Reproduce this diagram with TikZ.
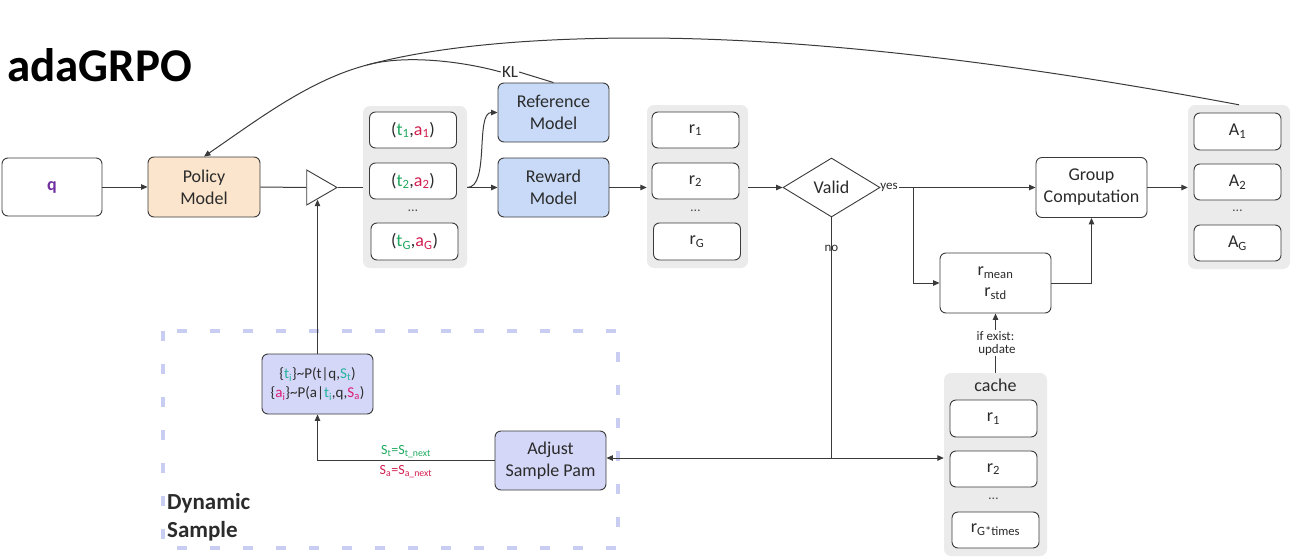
\documentclass[tikz,border=0pt]{standalone}
\usepackage{fontspec}
\setmainfont{Carlito}
\usetikzlibrary{arrows.meta,shapes.geometric}
\definecolor{ln}{HTML}{3A3A3A}
\definecolor{txt}{HTML}{2B2B2B}
\definecolor{policyfill}{HTML}{FBE5CC}
\definecolor{bluefill}{HTML}{C8DAF7}
\definecolor{lavfill}{HTML}{D4D7F7}
\definecolor{dashc}{HTML}{C9CDF2}
\definecolor{grayg}{HTML}{EBEBEB}
\definecolor{tgreen}{HTML}{1DA95E}
\definecolor{ared}{HTML}{D21E4F}
\definecolor{tteal}{HTML}{25B39C}
\definecolor{amag}{HTML}{DC1C74}
\definecolor{qpurple}{HTML}{7030A0}
\newcommand\myfmain{\fontsize{18}{22}\selectfont}
\newcommand\myfsmall{\fontsize{13}{15}\selectfont}
\newcommand\mysb[1]{\textsubscript{#1}}
\newcommand\tg[1]{\textcolor{tgreen}{#1}}
\newcommand\ar[1]{\textcolor{ared}{#1}}
\begin{document}
\begin{tikzpicture}[x=1pt,y=-1pt,
  box/.style={draw=ln, line width=0.9pt, rounded corners=6pt, minimum width=111pt, minimum height=60pt, align=center, font=\myfmain, text=txt, inner sep=2pt},
  item/.style={draw=ln, fill=white, line width=0.9pt, rounded corners=6pt, minimum width=87pt, minimum height=36pt, font=\myfmain, text=txt, inner sep=1pt},
  grp/.style={fill=grayg, rounded corners=7pt, inner sep=0pt},
  dots/.style={font=\fontsize{14}{14}\selectfont, text=txt!80, inner sep=0pt},
  con/.style={draw=ln, line width=1pt},
  arr/.style={con, -{Triangle[length=6.5pt,width=5.5pt]}},
  lbl/.style={font=\myfsmall, text=txt, inner sep=1pt},
  dashbox/.style={draw=dashc, line width=4pt, dash pattern=on 10pt off 23pt}
]
\useasboundingbox (0,0) rectangle (1291,557);

% title
\node[anchor=base west, font=\fontsize{47}{52}\selectfont\bfseries, text=black, inner sep=0pt] (title) at (7,81) {adaGRPO};

% dynamic sample region
\draw[dashbox] (163,331) rectangle (618,548);
\node[anchor=west, align=left, font=\fontsize{23}{28}\selectfont\bfseries, text=txt, inner sep=0pt] (dyn) at (167,517) {Dynamic\\Sample};

% main boxes
\node[box, minimum width=100pt, minimum height=58pt] (q) at (52,187) {\textcolor{qpurple}{\bfseries q}};
\node[box, fill=policyfill, minimum width=112pt] (policy) at (204,187) {Policy\\Model};
\node[draw=ln, fill=white, line width=0.9pt, regular polygon, regular polygon sides=3, shape border rotate=-90, minimum size=40.4pt, inner sep=0pt] (tri) at (316.8,187.5) {};

% (t,a) group
\node[grp, minimum width=104pt, minimum height=162pt] (tagrp) at (415,187) {};
\node[item] (ta1) at (413,130) {(\tg{t\mysb{1}},\ar{a\mysb{1}})};
\node[item] (ta2) at (413,181) {(\tg{t\mysb{2}},\ar{a\mysb{2}})};
\node[dots] (tadots) at (413,211) {\dots};
\node[item, minimum height=37pt] (taG) at (414.5,241.5) {(\tg{t\mysb{G}},\ar{a\mysb{G}})};

\node[box, fill=bluefill, minimum height=59pt] (ref) at (553.5,112.5) {Reference\\Model};
\node[box, fill=bluefill, minimum height=59pt] (rew) at (553.5,187.5) {Reward\\Model};

% reward group
\node[grp, minimum width=101pt, minimum height=163pt] (rgrp) at (697.5,186.5) {};
\node[item] (r1) at (695.5,130) {r\mysb{1}};
\node[item] (r2) at (695.5,181) {r\mysb{2}};
\node[dots] (rdots) at (695.5,211) {\dots};
\node[item, minimum height=37pt] (rG) at (697,241.5) {r\mysb{G}};

% valid
\node[draw=ln, line width=0.9pt, diamond, aspect=1.6, minimum width=97pt, minimum height=59pt, inner sep=0pt, font=\myfmain, text=txt] (valid) at (831.5,187.5) {Valid};
\node[lbl] (yes) at (889,187.5) {yes};
\coordinate (br) at (913,187.5);

\node[box] (gc) at (1091.5,187.5) {Group\\Computation};

% A group
\node[grp, minimum width=102pt, minimum height=164pt] (agrp) at (1239,187) {};
\node[item, minimum height=37pt] (A1) at (1237.5,131.5) {A\mysb{1}};
\node[item] (A2) at (1237.5,182) {A\mysb{2}};
\node[dots] (adots) at (1237.5,211) {\dots};
\node[item] (AG) at (1237.5,243) {A\mysb{G}};

% rmean
\node[box] (rmean) at (995.5,283) {r\mysb{mean}\\[-1pt]r\mysb{std}};

% cache group
\node[grp, minimum width=103pt, minimum height=183pt] (cgrp) at (995.5,464.5) {};
\node[font=\myfmain, text=txt, inner sep=0pt] (cachelbl) at (995.5,385) {cache};
\node[item, minimum height=37pt] (c1) at (993.5,418.5) {r\mysb{1}};
\node[item] (c2) at (993.5,469) {r\mysb{2}};
\node[dots] (cdots) at (993.5,499) {\dots};
\node[item] (cG) at (995.5,530) {r\mysb{G*times}};

% dynamic sample boxes
\node[box, fill=lavfill, font=\fontsize{15}{19}\selectfont] (sample) at (317.5,384)
  {\{\textcolor{tteal}{t\mysb{i}}\}\textasciitilde P(t|q,\textcolor{tteal}{S\mysb{t}})\\
   \{\textcolor{amag}{a\mysb{i}}\}\textasciitilde P(a|\textcolor{tteal}{t\mysb{i}},q,\textcolor{amag}{S\mysb{a}})};
\node[box, fill=lavfill, minimum height=59pt] (adjust) at (550.5,460.5) {Adjust\\Sample Pam};

% connectors
\draw[arr] (q.east) -- (policy.west);
\draw[con] (policy.east) -- (tri.west);
\draw[con] (tri.east) -- (tagrp.west |- tri.east);
\draw[arr] (tagrp.east |- rew.west) -- (rew.west);
\draw[arr] (tagrp.east |- rew.west) .. controls (490,187.5) and (475,112.5) .. (ref.west);
\draw[arr] (rew.east) -- (rgrp.west |- rew.east);
\draw[arr] (rgrp.east |- valid.west) -- (valid.west);
\draw[arr] (yes.east) -- (gc.west);
\draw[arr] (br) |- (rmean.west);
\draw[arr] (rmean.east) -| (gc.south);
\draw[arr] (gc.east) -- (agrp.west |- gc.east);
\draw[arr] (cgrp.north) -- node[lbl, fill=white, align=center, pos=0.5] (ifex) {if exist:\\[-2pt]\ update} (rmean.south);

% no branch
\coordinate (split) at (831.5,458);
\draw[con] (valid.south) -- (split);
\node[lbl] (no) at (831.5,248) {no};
\draw[arr] (split) -- (adjust.east |- split);
\draw[arr] (split) -- (cgrp.west |- split);

% adjust to sample
\draw[arr] (adjust.west) -| (sample.south);
\node[font=\fontsize{14}{14}\selectfont, text=tgreen, inner sep=0pt] (stl) at (406,452) {S\mysb{t}=S\mysb{t\_next}};
\node[font=\fontsize{14}{14}\selectfont, text=ared, inner sep=0pt] (sal) at (406,472) {S\mysb{a}=S\mysb{a\_next}};
\draw[arr] (sample.north) -- (sample.north |- tri.south);

% big feedback arc and KL
\draw[arr] (agrp.north) .. controls (1000,60) and (800,38) .. (640,38)
  .. controls (520,38) and (430,48) .. (367,65) coordinate (merge)
  .. controls (310,80) and (260,118) .. (policy.north);
\node[font=\fontsize{17}{17}\selectfont, text=txt, inner sep=1pt] (kl) at (510,72) {KL};
\draw[con] (ref.north) -- (kl.east);
\draw[con] (kl.west) .. controls (465,62) and (407,54) .. (merge);
\end{tikzpicture}
\end{document}
